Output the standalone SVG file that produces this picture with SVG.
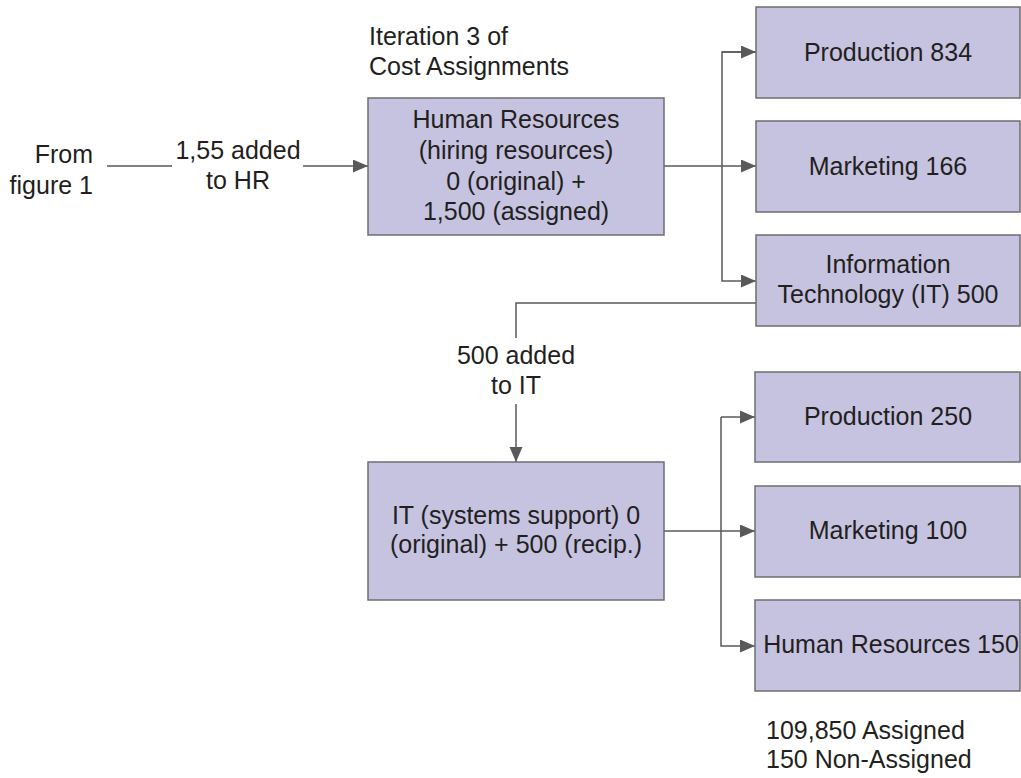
<svg xmlns="http://www.w3.org/2000/svg" width="1021" height="778" viewBox="0 0 1021 778">
<defs>
<marker id="arr" markerUnits="userSpaceOnUse" markerWidth="16" markerHeight="14" refX="15" refY="6.5" orient="auto">
<path d="M0,0 L15,6.5 L0,13 Z" fill="#58595b"/>
</marker>
</defs>
<style>
.box{fill:#c6c3e1;stroke:#6d6e71;stroke-width:1.5}
.t{font-family:"Liberation Sans",Arial,sans-serif;font-size:25px;fill:#231f20}
.c{text-anchor:middle}
.ln{fill:none;stroke:#58595b;stroke-width:1.5}
</style>
<rect width="1021" height="778" fill="#ffffff"/>
<g id="labels">
<text class="t" x="93" y="163" text-anchor="end">From</text>
<text class="t" x="93" y="194" text-anchor="end">figure 1</text>
<text class="t c" x="238" y="159">1,55 added</text>
<text class="t c" x="238" y="189">to HR</text>
<text class="t" x="369" y="45">Iteration 3 of</text>
<text class="t" x="369" y="75">Cost Assignments</text>
<text class="t c" x="516" y="364">500 added</text>
<text class="t c" x="516" y="394">to IT</text>
<text class="t" x="766" y="739">109,850 Assigned</text>
<text class="t" x="766" y="768">150 Non-Assigned</text>
</g>
<g id="connectors">
<line class="ln" x1="107" y1="166" x2="172" y2="166"/>
<line class="ln" x1="303" y1="166" x2="368" y2="166" marker-end="url(#arr)"/>
<line class="ln" x1="664" y1="166" x2="722" y2="166"/>
<path class="ln" d="M756,52 H722 V281 H756" marker-end="url(#arr)"/>
<line class="ln" x1="722" y1="52" x2="756" y2="52" marker-end="url(#arr)"/>
<line class="ln" x1="722" y1="166" x2="756" y2="166" marker-end="url(#arr)"/>
<path class="ln" d="M756,303 H516 V338"/>
<line class="ln" x1="516" y1="404" x2="516" y2="462" marker-end="url(#arr)"/>
<line class="ln" x1="664" y1="531" x2="721" y2="531"/>
<path class="ln" d="M721,417 V646 H755" marker-end="url(#arr)"/>
<line class="ln" x1="721" y1="417" x2="755" y2="417" marker-end="url(#arr)"/>
<line class="ln" x1="721" y1="531" x2="755" y2="531" marker-end="url(#arr)"/>
</g>
<g id="hr">
<rect class="box" x="368" y="98" width="296" height="137"/>
<text class="t c" x="516" y="128">Human Resources</text>
<text class="t c" x="516" y="159">(hiring resources)</text>
<text class="t c" x="516" y="190">0 (original) +</text>
<text class="t c" x="516" y="220">1,500 (assigned)</text>
</g>
<g id="prod834">
<rect class="box" x="756" y="7" width="264" height="91"/>
<text class="t c" x="888" y="61">Production 834</text>
</g>
<g id="mkt166">
<rect class="box" x="756" y="121" width="264" height="91"/>
<text class="t c" x="888" y="175">Marketing 166</text>
</g>
<g id="it500">
<rect class="box" x="756" y="235" width="264" height="91"/>
<text class="t c" x="888" y="273">Information</text>
<text class="t c" x="888" y="303">Technology (IT) 500</text>
</g>
<g id="itsys">
<rect class="box" x="368" y="462" width="296" height="138"/>
<text class="t c" x="516" y="524">IT (systems support) 0</text>
<text class="t c" x="516" y="553">(original) + 500 (recip.)</text>
</g>
<g id="prod250">
<rect class="box" x="755" y="372" width="265" height="90"/>
<text class="t c" x="888" y="425">Production 250</text>
</g>
<g id="mkt100">
<rect class="box" x="755" y="486" width="265" height="91"/>
<text class="t c" x="888" y="539">Marketing 100</text>
</g>
<g id="hr150">
<rect class="box" x="755" y="600" width="265" height="91"/>
<text class="t c" x="891" y="653">Human Resources 150</text>
</g>
</svg>
